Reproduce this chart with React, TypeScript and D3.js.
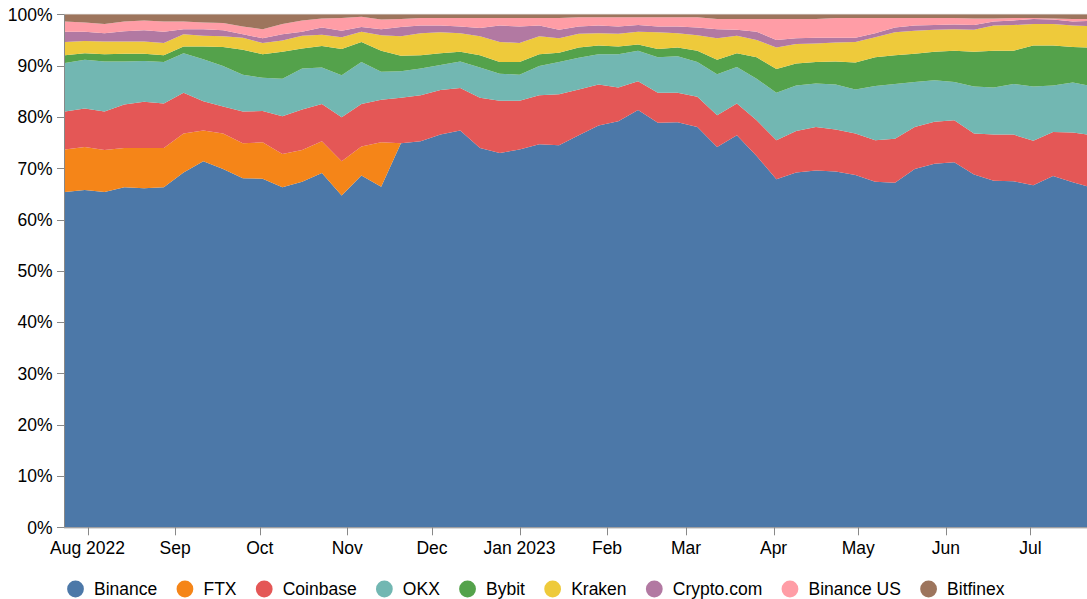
import { useEffect, useRef } from 'react';
import * as d3 from 'd3';

// weekly data points (week start dates)
const weeks = [
  '2022-07-24', '2022-07-31', '2022-08-07', '2022-08-14', '2022-08-21', '2022-08-28',
  '2022-09-04', '2022-09-11', '2022-09-18', '2022-09-25', '2022-10-02', '2022-10-09',
  '2022-10-16', '2022-10-23', '2022-10-30', '2022-11-06', '2022-11-13', '2022-11-20',
  '2022-11-27', '2022-12-04', '2022-12-11', '2022-12-18', '2022-12-25', '2023-01-01',
  '2023-01-08', '2023-01-15', '2023-01-22', '2023-01-29', '2023-02-05', '2023-02-12',
  '2023-02-19', '2023-02-26', '2023-03-05', '2023-03-12', '2023-03-19', '2023-03-26',
  '2023-04-02', '2023-04-09', '2023-04-16', '2023-04-23', '2023-04-30', '2023-05-07',
  '2023-05-14', '2023-05-21', '2023-05-28', '2023-06-04', '2023-06-11', '2023-06-18',
  '2023-06-25', '2023-07-02', '2023-07-09', '2023-07-16', '2023-07-23',
];

const exchanges = ['Binance', 'FTX', 'Coinbase', 'OKX', 'Bybit', 'Kraken', 'Crypto.com', 'Binance US', 'Bitfinex'];
const colors = ['#4c78a8', '#f58518', '#e45756', '#72b7b2', '#54a24b', '#eeca3b', '#b279a2', '#ff9da6', '#9d755d'];

// market share (%) per week
const binance = [65.5, 65.9, 65.5, 66.4, 66.2, 66.4, 69.3, 71.5, 70.0, 68.2, 68.1, 66.4, 67.5, 69.2, 64.8, 68.7, 66.5, 75.0, 75.4, 76.7, 77.5, 74.1, 73.1, 73.8, 74.8, 74.6, 76.6, 78.5, 79.3, 81.5, 79.0, 79.1, 78.2, 74.3, 76.6, 72.5, 68.0, 69.3, 69.7, 69.5, 68.8, 67.5, 67.3, 70.0, 71.0, 71.3, 68.9, 67.7, 67.6, 66.8, 68.6, 67.4, 66.3];
const ftx = [8.3, 8.4, 8.2, 7.7, 7.9, 7.7, 7.6, 6.0, 6.9, 6.8, 7.1, 6.5, 6.2, 6.2, 6.7, 5.7, 8.7, 0, 0, 0, 0, 0, 0, 0, 0, 0, 0, 0, 0, 0, 0, 0, 0, 0, 0, 0, 0, 0, 0, 0, 0, 0, 0, 0, 0, 0, 0, 0, 0, 0, 0, 0, 0];
const coinbase = [7.4, 7.5, 7.5, 8.5, 9.0, 8.7, 8.0, 5.7, 5.3, 6.2, 6.1, 7.4, 7.9, 7.3, 8.6, 8.3, 8.3, 8.9, 9.0, 8.7, 8.3, 9.8, 10.2, 9.5, 9.6, 10.0, 8.9, 8.0, 6.6, 5.6, 5.9, 5.8, 5.9, 6.2, 6.2, 7.0, 7.6, 8.1, 8.5, 8.2, 8.1, 8.1, 8.6, 8.2, 8.2, 8.2, 8.0, 9.0, 9.1, 8.7, 8.6, 9.7, 10.3];
const okx = [9.5, 9.5, 9.8, 8.4, 8.0, 8.1, 7.7, 8.2, 7.9, 7.2, 6.5, 7.3, 8.0, 7.1, 8.2, 8.2, 5.5, 5.2, 5.2, 4.9, 5.2, 5.9, 5.3, 5.1, 5.7, 6.3, 6.2, 5.9, 6.5, 6.0, 6.9, 7.1, 6.8, 8.0, 7.1, 8.1, 9.3, 8.9, 8.5, 8.8, 8.6, 10.6, 10.7, 8.8, 8.1, 7.5, 9.2, 9.2, 9.9, 10.6, 9.1, 9.8, 9.5];
const bybit = [1.5, 1.3, 1.4, 1.5, 1.4, 1.3, 1.3, 2.5, 3.7, 4.9, 4.6, 5.3, 3.9, 4.2, 5.1, 3.9, 4.1, 3.0, 2.6, 2.3, 1.9, 2.4, 2.3, 2.5, 2.3, 1.8, 2.0, 1.7, 1.5, 1.2, 1.6, 1.7, 2.2, 2.8, 2.7, 4.2, 4.6, 4.3, 4.2, 4.5, 5.3, 5.6, 5.6, 5.5, 5.6, 6.1, 6.8, 7.2, 6.5, 8.0, 7.8, 6.9, 7.6];
const kraken = [2.6, 2.4, 2.5, 2.4, 2.4, 2.4, 2.4, 2.1, 2.1, 2.3, 2.2, 2.2, 2.5, 2.2, 2.3, 2.0, 3.0, 3.8, 4.3, 4.1, 3.6, 3.7, 3.9, 3.7, 3.5, 2.8, 2.7, 2.4, 2.5, 2.5, 3.3, 2.8, 3.0, 4.2, 3.4, 3.4, 4.2, 3.8, 3.6, 3.7, 4.0, 3.9, 4.5, 4.5, 4.3, 4.2, 4.3, 4.9, 5.0, 4.2, 4.2, 4.2, 4.2];
const cryptoCom = [2.0, 1.8, 1.6, 2.0, 2.2, 2.2, 1.0, 1.3, 1.2, 0.7, 0.9, 1.2, 0.8, 1.4, 1.3, 0.9, 1.2, 1.8, 1.5, 1.3, 1.3, 1.6, 3.2, 3.2, 2.1, 1.7, 1.4, 1.5, 1.4, 1.3, 1.1, 1.3, 1.5, 1.8, 1.2, 1.6, 1.5, 1.1, 1.1, 0.9, 0.8, 0.8, 0.9, 1.0, 0.9, 0.9, 0.9, 0.8, 0.9, 1.0, 0.9, 0.8, 1.0];
const binanceUs = [2.0, 1.8, 1.8, 1.9, 1.9, 2.0, 1.5, 1.3, 1.4, 1.5, 1.8, 2.0, 2.2, 1.8, 2.5, 2.0, 1.9, 1.6, 1.5, 1.5, 1.7, 2.0, 1.5, 1.7, 1.5, 2.3, 1.8, 1.6, 1.8, 1.5, 1.8, 1.8, 2.0, 2.0, 2.1, 2.5, 4.1, 3.8, 3.7, 3.9, 3.9, 3.0, 1.9, 1.5, 1.4, 1.3, 1.3, 0.6, 0.5, 0.2, 0.2, 0.5, 0.4];
const bitfinex = [1.4, 1.6, 1.9, 1.4, 1.2, 1.4, 1.4, 1.6, 1.7, 2.4, 2.9, 1.9, 1.2, 0.8, 0.7, 0.5, 1.0, 0.9, 0.7, 0.7, 0.7, 0.7, 0.7, 0.7, 0.7, 0.7, 0.6, 0.6, 0.6, 0.6, 0.6, 0.6, 0.6, 0.9, 0.9, 0.9, 0.9, 0.9, 0.9, 0.7, 0.7, 0.7, 0.7, 0.7, 0.7, 0.7, 0.8, 0.8, 0.7, 0.7, 0.8, 0.9, 0.9];

const series = [binance, ftx, coinbase, okx, bybit, kraken, cryptoCom, binanceUs, bitfinex];

const FONT = '"Liberation Sans", Arial, Helvetica, sans-serif';

const App = () => {
  const svgRef = useRef<SVGSVGElement>(null);

  useEffect(() => {
    if (!svgRef.current) return;
    const svg = d3.select(svgRef.current);
    svg.selectAll('*').remove();

    const width = 1087;
    const left = 64;
    const top = 14.3;
    const bottom = 527.3;
    const pxPerDay = 2.823;

    const parse = d3.utcParse('%Y-%m-%d');
    const dates = weeks.map(w => parse(w) as Date);
    const rows = dates.map((date, i) => {
      const r: any = { date };
      exchanges.forEach((k, j) => { r[k] = series[j][i]; });
      return r;
    });

    const stacked = d3.stack<any>().keys(exchanges).offset(d3.stackOffsetExpand)(rows);

    const first = dates[0];
    const last = dates[dates.length - 1];
    const days = (last.getTime() - first.getTime()) / 864e5;
    const x = d3.scaleUtc().domain([first, last]).range([left + 1, left + 1 + days * pxPerDay]);
    const y = d3.scaleLinear().domain([0, 1]).range([bottom, top]);

    svg.append('clipPath').attr('id', 'plot-clip')
      .append('rect')
      .attr('x', left).attr('y', top)
      .attr('width', width - left).attr('height', bottom - top);

    const area = d3.area<any>()
      .x(d => x(d.data.date))
      .y0(d => y(d[0]))
      .y1(d => y(d[1]));

    svg.append('rect')
      .attr('x', left + 0.5).attr('y', top)
      .attr('width', width).attr('height', bottom - top)
      .attr('fill', 'none').attr('stroke', '#ddd');

    svg.append('g').attr('clip-path', 'url(#plot-clip)')
      .selectAll('path')
      .data(stacked)
      .enter()
      .append('path')
      .attr('d', area as any)
      .attr('fill', (_d, i) => colors[i]);

    // y axis
    const yAxis = svg.append('g').attr('font-family', FONT).attr('font-size', 17.5);
    yAxis.append('line')
      .attr('x1', left + 0.5).attr('x2', left + 0.5)
      .attr('y1', top).attr('y2', bottom)
      .attr('stroke', '#888');
    const yTicks = d3.range(0, 11).map(v => v / 10);
    const yt = yAxis.selectAll('g.tick').data(yTicks).enter().append('g').attr('class', 'tick');
    yt.append('line')
      .attr('x1', left - 7).attr('x2', left)
      .attr('y1', d => Math.round(y(d)) + 0.5).attr('y2', d => Math.round(y(d)) + 0.5)
      .attr('stroke', '#888');
    yt.append('text')
      .attr('x', left - 11.5)
      .attr('y', d => y(d))
      .attr('dy', '0.36em')
      .attr('text-anchor', 'end')
      .attr('fill', '#000')
      .text(d => d3.format('.0%')(d));

    // x axis
    const xAxis = svg.append('g').attr('font-family', FONT).attr('font-size', 17.5);
    xAxis.append('line')
      .attr('x1', left).attr('x2', width)
      .attr('y1', bottom + 0.5).attr('y2', bottom + 0.5)
      .attr('stroke', '#888');
    const xTicks = x.ticks(d3.utcMonth.every(1) as any).filter(t => x(t) >= left && x(t) <= width);
    const fmtYear = d3.utcFormat('%b %Y');
    const fmtMonth = d3.utcFormat('%b');
    const xt = xAxis.selectAll('g.tick').data(xTicks).enter().append('g').attr('class', 'tick');
    xt.append('line')
      .attr('x1', d => Math.round(x(d)) + 0.5).attr('x2', d => Math.round(x(d)) + 0.5)
      .attr('y1', bottom).attr('y2', bottom + 8)
      .attr('stroke', '#888');
    xt.append('text')
      .attr('x', d => x(d))
      .attr('y', 553.5)
      .attr('text-anchor', 'middle')
      .attr('fill', '#000')
      .text((d, i) => (i === 0 || d.getUTCMonth() === 0 ? fmtYear(d) : fmtMonth(d)));

    // legend
    const legend = svg.append('g').attr('font-family', FONT).attr('font-size', 17.5);
    const cy = 589;
    let cx = 75.5;
    exchanges.forEach((name, i) => {
      legend.append('circle')
        .attr('cx', cx).attr('cy', cy).attr('r', 8.4)
        .attr('fill', colors[i]);
      const t = legend.append('text')
        .attr('x', cx + 18.5)
        .attr('y', cy)
        .attr('dy', '0.36em')
        .attr('fill', '#000')
        .text(name);
      const w = (t.node() as SVGTextElement).getComputedTextLength();
      cx = cx + 18.5 + w + 27.7;
    });
  }, []);

  return (
    <svg
      ref={svgRef}
      width={1087}
      height={599}
      style={{ position: 'absolute', left: 0, top: 0, display: 'block' }}
    ></svg>
  );
};

export default App;
